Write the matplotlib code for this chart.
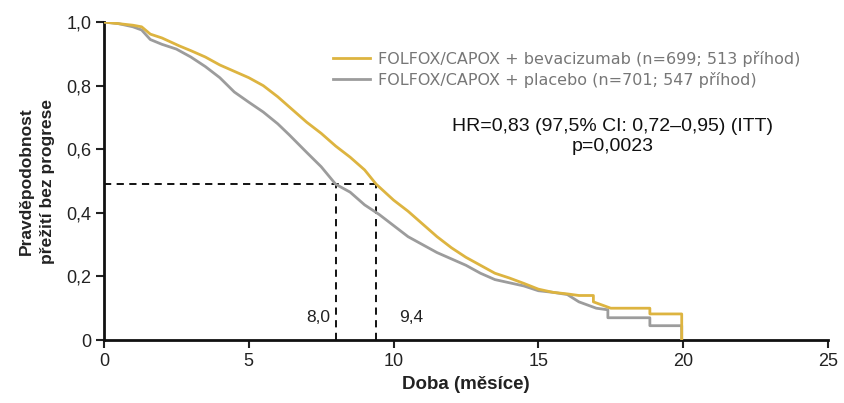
import matplotlib
matplotlib.use("Agg")
import matplotlib.pyplot as plt

plt.rcParams['font.family'] = ['Liberation Sans', 'DejaVu Sans']

# Kaplan-Meier PFS estimates (months, probability)
time_bev = [0, 0.5, 1.0, 1.3, 1.6, 2.0, 2.6, 3.0, 3.5, 4.0, 4.5, 5.0, 5.5, 6.0, 6.5,
            7.0, 7.5, 8.0, 8.5, 9.0, 9.4, 10.0, 10.5, 11.0, 11.5, 12.0, 12.5, 13.0,
            13.5, 14.0, 14.5, 15.0, 15.5, 16.0, 16.4, 16.9, 16.9, 17.5, 18.85, 18.85,
            19.95, 19.95]
surv_bev = [1.0, 0.995, 0.99, 0.985, 0.962, 0.95, 0.925, 0.91, 0.89, 0.865, 0.845,
            0.825, 0.80, 0.765, 0.725, 0.685, 0.65, 0.61, 0.575, 0.535, 0.49, 0.44,
            0.405, 0.365, 0.325, 0.29, 0.26, 0.235, 0.21, 0.195, 0.178, 0.16, 0.15,
            0.145, 0.14, 0.14, 0.12, 0.10, 0.10, 0.082, 0.082, 0.0]

time_pla = [0, 0.5, 1.0, 1.3, 1.6, 2.0, 2.5, 3.0, 3.5, 4.0, 4.5, 5.0, 5.5, 6.0, 6.4,
            7.0, 7.5, 8.0, 8.5, 9.0, 9.5, 10.0, 10.5, 11.0, 11.5, 12.0, 12.5, 13.0,
            13.5, 14.0, 14.5, 15.0, 15.5, 16.0, 16.4, 17.0, 17.4, 17.4, 18.85, 18.85,
            19.95, 19.95]
surv_pla = [1.0, 0.995, 0.985, 0.975, 0.945, 0.93, 0.915, 0.89, 0.86, 0.825, 0.78,
            0.748, 0.717, 0.68, 0.645, 0.59, 0.545, 0.49, 0.465, 0.425, 0.395, 0.36,
            0.325, 0.30, 0.275, 0.255, 0.235, 0.21, 0.19, 0.18, 0.17, 0.155, 0.15,
            0.143, 0.12, 0.10, 0.095, 0.07, 0.07, 0.045, 0.045, 0.0]

label_bev = "FOLFOX/CAPOX + bevacizumab (n=699; 513 příhod)"
label_pla = "FOLFOX/CAPOX + placebo (n=701; 547 příhod)"

median_bev = 9.4
median_pla = 8.0
median_level = 0.49

x_ticks = [0, 5, 10, 15, 20, 25]
y_ticks = [0, 0.2, 0.4, 0.6, 0.8, 1.0]
y_ticklabels = ["0", "0,2", "0,4", "0,6", "0,8", "1,0"]

col_bev = "#DDB440"
col_pla = "#9C9C9C"

fig = plt.figure(figsize=(8.44, 4.03), dpi=100)
ax = fig.add_axes([0.1232, 0.1563, 0.8578, 0.789])

ax.plot(time_pla, surv_pla, color=col_pla, lw=2.0, label=label_pla, zorder=3)
ax.plot(time_bev, surv_bev, color=col_bev, lw=2.0, label=label_bev, zorder=4)

# median reference lines
dash = dict(color="black", lw=1.3, ls=(0, (4, 3)), zorder=2)
ax.plot([0, median_bev], [median_level, median_level], **dash)
ax.plot([median_pla, median_pla], [0, median_level], **dash)
ax.plot([median_bev, median_bev], [0, median_level], **dash)
ax.text(median_pla - 0.2, 0.07, "8,0", ha="right", va="center", fontsize=12.5, color="#222")
ax.text(median_bev + 0.8, 0.07, "9,4", ha="left", va="center", fontsize=12.5, color="#222")

ax.set_xlim(0, 25)
ax.set_ylim(0, 1.0)
ax.set_xticks(x_ticks)
ax.set_xticklabels([str(t) for t in x_ticks])
ax.set_yticks(y_ticks)
ax.set_yticklabels(y_ticklabels)
ax.tick_params(direction="out", length=6, width=1.5, labelsize=13,
               labelcolor="#222", color="#222", pad=3)
for s in ["top", "right"]:
    ax.spines[s].set_visible(False)
for s in ["left", "bottom"]:
    ax.spines[s].set_linewidth(2.0)
    ax.spines[s].set_color("#111")

ax.set_xlabel("Doba (měsíce)", fontsize=13.5, fontweight="bold", color="#222", labelpad=5)
ax.set_ylabel("Pravděpodobnost\npřežití bez progrese", fontsize=12.5, fontweight="bold",
              color="#222", labelpad=8, linespacing=1.55)

handles, labels = ax.get_legend_handles_labels()
leg = ax.legend(handles[::-1], labels[::-1], loc="upper left",
                bbox_to_anchor=(0.297, 0.955), frameon=False,
                prop={"family": "DejaVu Sans", "size": 11.5},
                handlelength=2.3, handletextpad=0.5, labelspacing=0.32,
                labelcolor="#777")

ax.text(0.702, 0.64, "HR=0,83 (97,5% CI: 0,72–0,95) (ITT)\np=0,0023",
        transform=ax.transAxes, ha="center", va="center", fontsize=14,
        color="#111", linespacing=1.3)

fig.savefig("out.png", dpi=100)
